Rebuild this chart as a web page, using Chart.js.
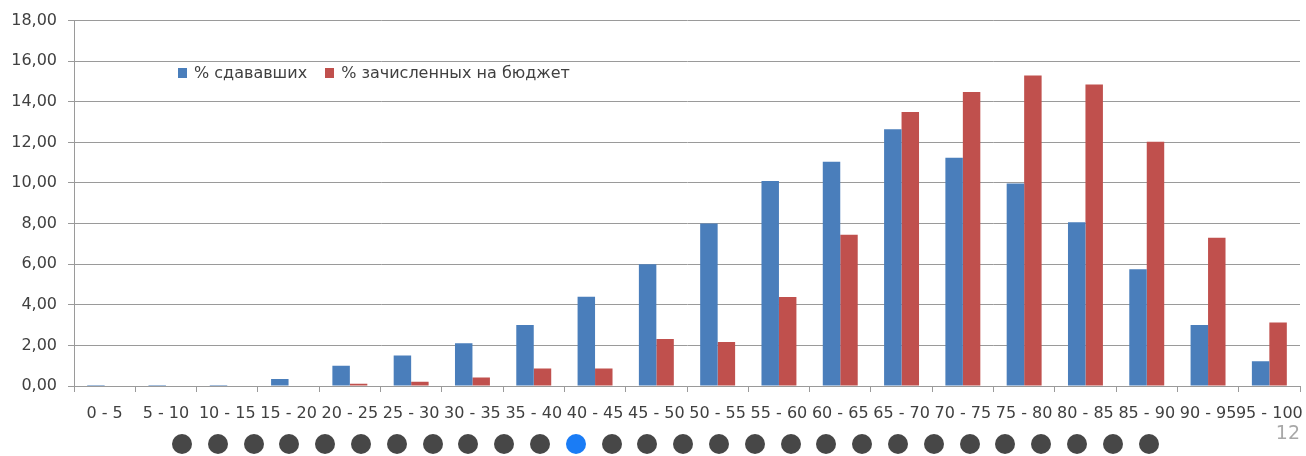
<!DOCTYPE html>
<html>
<head>
<meta charset="utf-8">
<script src="https://cdn.jsdelivr.net/npm/chart.js@4/dist/chart.umd.min.js"></script>
<style>
  html, body { margin: 0; padding: 0; background: #fff; }
  #wrap { position: relative; width: 1306px; height: 456px; overflow: hidden; font-family: "DejaVu Sans", sans-serif; }
  #scoreChart { position: absolute; left: 0; top: 0; }
  .legend { position: absolute; left: 178px; top: 63px; font-size: 16px; color: #404040; display: flex; align-items: center; }
  .legend span.sw { display: inline-block; width: 9px; height: 10px; margin-right: 7px; }
  .legend span.item { display: inline-flex; align-items: center; margin-right: 18px; }
  #dots { position: absolute; left: 172px; top: 434px; display: flex; }
  #dots i { display: block; width: 20px; height: 20px; border-radius: 50%; background: #474747; margin-right: 15.8px; }
  #dots i.on { background: #1a7cf5; }
  #page { position: absolute; right: 6px; top: 421px; font-size: 19px; color: #a8a8a8; }
</style>
</head>
<body>
<div id="wrap">
  <canvas id="scoreChart" width="1306" height="456"></canvas>
  <div class="legend">
    <span class="item"><span class="sw" style="background:#4a7ebb"></span>% сдававших</span>
    <span class="item"><span class="sw" style="background:#c0504d"></span>% зачисленных на бюджет</span>
  </div>
  <div id="dots"></div>
  <div id="page">12</div>
</div>
<script>
// Score ranges
const ranges = ['0 - 5', '5 - 10', '10 - 15', '15 - 20', '20 - 25', '25 - 30', '30 - 35', '35 - 40',
  '40 - 45', '45 - 50', '50 - 55', '55 - 60', '60 - 65', '65 - 70', '70 - 75', '75 - 80',
  '80 - 85', '85 - 90', '90 - 95', '95 - 100'];

// % of all exam takers per range
const takers = [0.05, 0.05, 0.05, 0.35, 1.0, 1.5, 2.1, 3.0, 4.4, 6.0, 8.0, 10.1, 11.05,
  12.65, 11.25, 9.97, 8.07, 5.75, 3.0, 1.22];

// % of those admitted on budget places per range
const admitted = [0, 0, 0, 0, 0.11, 0.21, 0.42, 0.86, 0.86, 2.32, 2.17, 4.39, 7.45,
  13.5, 14.48, 15.29, 14.85, 12.03, 7.3, 3.13];

const yMax = 18;
const yStep = 2;

// slide navigation dots
const dotCount = 28;
const activeDot = 11;
const dots = document.getElementById('dots');
for (let i = 0; i < dotCount; i++) {
  const d = document.createElement('i');
  if (i === activeDot) d.className = 'on';
  dots.appendChild(d);
}

const gridColor = '#9a9a9a';
const textColor = '#404040';
const tickFont = { family: '"DejaVu Sans", sans-serif', size: 16 };

const ctx = document.getElementById('scoreChart').getContext('2d');
new Chart(ctx, {
  type: 'bar',
  data: {
    labels: ranges,
    datasets: [{
      label: '% сдававших',
      data: takers,
      backgroundColor: '#4a7ebb',
      categoryPercentage: 0.57,
      barPercentage: 1.0
    }, {
      label: '% зачисленных на бюджет',
      data: admitted,
      backgroundColor: '#c0504d',
      categoryPercentage: 0.57,
      barPercentage: 1.0
    }]
  },
  options: {
    responsive: false,
    animation: false,
    layout: { padding: { top: 16, right: 6, left: 0, bottom: 0 } },
    plugins: {
      legend: { display: false },
      tooltip: { enabled: false }
    },
    scales: {
      x: {
        // labels may run past the plot edge, keep the plot width fixed
        afterFit: scale => {
          scale.height = 70;
          scale.paddingLeft = 0;
          scale.paddingRight = 0;
        },
        border: { color: gridColor, width: 1 },
        grid: {
          offset: true,
          drawOnChartArea: false,
          drawTicks: true,
          tickLength: 6,
          color: gridColor
        },
        ticks: {
          autoSkip: false,
          maxRotation: 0,
          minRotation: 0,
          padding: 12,
          color: textColor,
          font: tickFont
        }
      },
      y: {
        min: 0,
        max: yMax,
        afterFit: scale => { scale.width = 74; },
        border: { color: gridColor, width: 1 },
        grid: {
          color: gridColor,
          lineWidth: 1,
          tickLength: 6
        },
        ticks: {
          stepSize: yStep,
          padding: 11,
          color: textColor,
          font: tickFont,
          callback: v => v.toFixed(2).replace('.', ',')
        }
      }
    }
  }
});
</script>
</body>
</html>
